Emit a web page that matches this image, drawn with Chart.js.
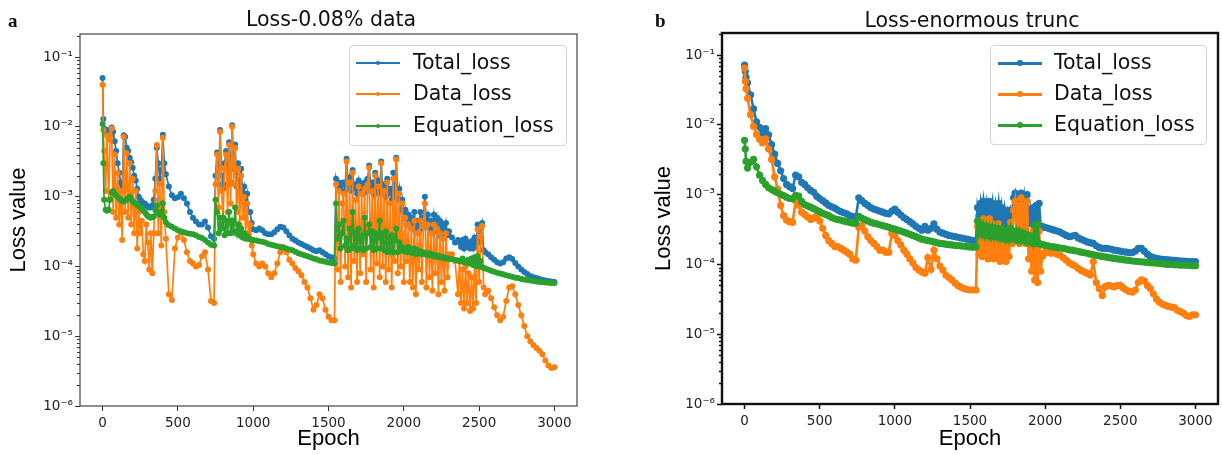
<!DOCTYPE html>
<html>
<head>
<meta charset="utf-8">
<script src="https://cdn.jsdelivr.net/npm/chart.js@4.4.1/dist/chart.umd.min.js"></script>
<style>
  body { margin: 0; background: #fff; }
  #page { position: relative; width: 1222px; height: 455px; overflow: hidden; font-family: "DejaVu Sans", sans-serif; color: #111; }
  canvas { position: absolute; top: 0; }
  .letter { position: absolute; font-family: "Liberation Serif", serif; font-weight: bold; font-size: 19px; line-height: 19px; }
  .title { position: absolute; font-size: 20.5px; line-height: 20.5px; transform: translateX(-50%); white-space: nowrap; }
  .legend { position: absolute; box-sizing: border-box; border: 1px solid #d4d4d4; border-radius: 4px; background: rgba(255,255,255,0.85); }
  .legend .sw { position: absolute; width: 44px; }
  .legend .dot { position: absolute; border-radius: 50%; }
  .legend .txt { position: absolute; font-size: 20.5px; line-height: 20.5px; white-space: nowrap; }
</style>
</head>
<body>
<div id="page">
  <canvas id="lossA" width="600" height="455" style="left:0"></canvas>
  <canvas id="lossB" width="611" height="455" style="left:611px"></canvas>
  <div class="letter" style="left:8px; top:11px">a</div>
  <div class="letter" style="left:655px; top:11px">b</div>
  <div class="title" style="left:331px; top:9px">Loss-0.08% data</div>
  <div class="title" style="left:972px; top:10px">Loss-enormous trunc</div>
  <div class="legend" id="legA" style="left:349px; top:45px; width:218px; height:101px"></div>
  <div class="legend" id="legB" style="left:990px; top:45px; width:217px; height:100px"></div>
</div>
<script>
const BLUE = '#1f77b4', ORANGE = '#ff7f0e', GREEN = '#2ca02c';

// ---- panel a: 0.08% data (sampled finer where the losses jump around) ----
const epochsA = [0, 5, 10,
  // 20-420 every 10
  20, 30, 40, 50, 60, 70, 80, 90, 100, 110, 120, 130, 140, 150, 160, 170, 180, 190, 200, 210, 220, 230, 240,
  250, 260, 270, 280, 290, 300, 310, 320, 330, 340, 350, 360, 370, 380, 390, 400, 410, 420,
  // 440-740 every 20
  440, 460, 480, 500, 520, 540, 560, 580, 600, 620, 640, 660, 680, 700, 720, 740,
  // 750-1000 every 10
  750, 760, 770, 780, 790, 800, 810, 820, 830, 840, 850, 860, 870, 880, 890, 900, 910, 920, 930, 940,
  950, 960, 970, 980, 990, 1000,
  // 1020-1540 every 20
  1020, 1040, 1060, 1080, 1100, 1120, 1140, 1160, 1180, 1200, 1220, 1240, 1260, 1280, 1300, 1320, 1340, 1360, 1380, 1400,
  1420, 1440, 1460, 1480, 1500, 1520, 1540,
  // 1550-2300 every 10
  1550, 1560, 1570, 1580, 1590, 1600, 1610, 1620, 1630, 1640, 1650, 1660, 1670, 1680, 1690, 1700, 1710, 1720, 1730, 1740,
  1750, 1760, 1770, 1780, 1790, 1800, 1810, 1820, 1830, 1840, 1850, 1860, 1870, 1880, 1890, 1900, 1910, 1920, 1930, 1940,
  1950, 1960, 1970, 1980, 1990, 2000, 2010, 2020, 2030, 2040, 2050, 2060, 2070, 2080, 2090, 2100, 2110, 2120, 2130, 2140,
  2150, 2160, 2170, 2180, 2190, 2200, 2210, 2220, 2230, 2240, 2250, 2260, 2270, 2280, 2290, 2300,
  2320, 2340, 2360,
  // 2370-2540 every 10
  2370, 2380, 2390, 2400, 2410, 2420, 2430, 2440, 2450, 2460, 2470, 2480, 2490, 2500, 2510, 2520, 2530, 2540,
  // 2560-3000 every 20
  2560, 2580, 2600, 2620, 2640, 2660, 2680, 2700, 2720, 2740, 2760, 2780, 2800, 2820, 2840, 2860, 2880, 2900, 2920, 2940,
  2960, 2980, 3000];

const totalA = [0.05, 0.013, 0.0095,
  0.0085, 0.009, 0.0068, 0.0075, 0.0098, 0.0085, 0.0062, 0.0045, 0.003, 0.0022, 0.0016, 0.0014, 0.0076, 0.0072, 0.005, 0.0045, 0.0036, 0.0031, 0.0026, 0.002, 0.0017, 0.0013, 0.001,
  0.0009, 0.00085, 0.0008, 0.0008, 0.00075, 0.00072, 0.0007, 0.0007, 0.00075, 0.0009, 0.0018, 0.005, 0.003, 0.0018, 0.0024, 0.0077, 0.003, 0.0021,
  0.0014, 0.00105, 0.00095, 0.00098, 0.0011, 0.00095, 0.0008, 0.0006, 0.0005, 0.00044, 0.0004, 0.0004, 0.00044, 0.00036, 0.00027, 0.00025,
  2e-3, 4.3e-3, 1.5e-3, 9e-3, 2e-3, 1.3e-3, 3e-3, 4.5e-3, 1.5e-3, 6e-3, 1.6e-3, 1.05e-2, 2.5e-3, 5.6e-3, 1.4e-3, 3e-3, 1.1e-3, 2.5e-3, 1.1e-3, 1.4e-3,
  8e-4, 1.1e-3, 6e-4, 6e-4, 4.2e-4, 3.4e-4,
  3.3e-4, 3.5e-4, 3.3e-4, 3.0e-4, 2.9e-4, 2.9e-4, 3.1e-4, 3.4e-4, 3.7e-4, 3.6e-4, 3.2e-4, 2.8e-4, 2.5e-4, 2.35e-4, 2.2e-4, 2.1e-4, 2.0e-4, 1.9e-4, 1.8e-4, 1.7e-4,
  1.65e-4, 1.7e-4, 1.6e-4, 1.5e-4, 1.4e-4, 1.35e-4, 1.3e-4,
  1.8e-3, 1.4e-3, 1.6e-3, 1.3e-3, 1.5e-3, 1.6e-3, 1.2e-3, 3.5e-3, 1.3e-3, 1.9e-3, 1.2e-3, 2.4e-3, 1.3e-3, 1.5e-3, 1.1e-3, 1.7e-3, 1.2e-3, 1.5e-3, 1.1e-3, 1.6e-3,
  1.2e-3, 1.8e-3, 2.8e-3, 1.3e-3, 1.6e-3, 1.1e-3, 2.2e-3, 1.2e-3, 1.7e-3, 1.1e-3, 3.2e-3, 1.2e-3, 1.5e-3, 1e-3, 1.8e-3, 1.1e-3, 1.3e-3, 9e-4, 2.2e-3, 1e-3,
  3.6e-3, 9e-4, 1.3e-3, 6.5e-4, 9e-4, 5e-4, 6.5e-4, 4e-4, 5.5e-4, 4e-4, 5e-4, 3.5e-4, 6e-4, 3.2e-4, 4.5e-4, 3.8e-4, 6e-4, 3.5e-4, 5e-4, 1e-3,
  4e-4, 5.5e-4, 3.5e-4, 4.5e-4, 3.2e-4, 5.5e-4, 3.5e-4, 5e-4, 3e-4, 4.5e-4, 3e-4, 4e-4, 2.8e-4, 4.2e-4, 2.8e-4, 3.2e-4,
  2.6e-4, 2.2e-4, 2.4e-4,
  2.2e-4, 1.9e-4, 2.4e-4, 1.8e-4, 2.5e-4, 1.9e-4, 2.2e-4, 1.8e-4, 2.3e-4, 1.8e-4, 2.6e-4, 2e-4, 4e-4, 2.2e-4, 3.4e-4, 4.2e-4, 1.7e-4, 1.6e-4,
  1.5e-4, 1.35e-4, 1.25e-4, 1.15e-4, 1.1e-4, 1.15e-4, 1.3e-4, 1.35e-4, 1.28e-4, 1.12e-4, 1e-4, 9e-5, 8.3e-5, 7.8e-5, 7.3e-5, 7e-5, 6.8e-5, 6.6e-5, 6.4e-5, 6.3e-5,
  6.2e-5, 6.1e-5, 6e-5];

const dataA = [0.04, 0.009, 0.0045,
  0.0012, 0.0075, 0.0009, 0.0065, 0.0095, 0.0006, 0.004, 0.0005, 0.0022, 0.0004, 0.0012, 0.00024, 0.0072, 0.0006, 0.0042, 0.0005, 0.003, 0.0004, 0.0018, 0.0003, 0.0012, 0.00018, 0.0006,
  0.0003, 0.00045, 0.00015, 0.00012, 0.0004, 0.00022, 0.00009, 0.0003, 0.00008, 0.0003, 0.0012, 0.0055, 0.0003, 0.0015, 0.0002, 0.007, 0.0006, 0.00025,
  0.00004, 0.000033, 0.00018, 0.00026, 0.00031, 0.00024, 0.00016, 0.00012, 0.00011, 0.0001, 0.000105, 0.00014, 0.00016, 0.00009, 0.000032, 0.00003,
  1.5e-3, 4e-3, 7e-4, 8.5e-3, 1.2e-3, 5e-4, 2.5e-3, 4e-3, 6e-4, 5.5e-3, 8e-4, 1e-2, 1.5e-3, 5e-3, 6e-4, 2.5e-3, 4e-4, 2e-3, 5e-4, 1e-3,
  3e-4, 8e-4, 2.5e-4, 4e-4, 2e-4, 1.5e-4,
  1.1e-4, 1e-4, 1.1e-4, 1e-4, 8e-5, 7e-5, 8e-5, 1.1e-4, 1.6e-4, 1.9e-4, 1.6e-4, 1.25e-4, 1.1e-4, 9.5e-5, 8.5e-5, 7.5e-5, 6e-5, 5e-5, 3.5e-5, 2.4e-5,
  2.8e-5, 4e-5, 3.5e-5, 2.4e-5, 1.9e-5, 1.7e-5, 1.7e-5,
  1.5e-3, 9e-5, 1.2e-3, 6e-5, 8e-4, 1.1e-3, 1e-4, 3.2e-3, 7e-5, 1.6e-3, 5e-5, 2.2e-3, 1.2e-4, 9e-4, 6e-5, 1.4e-3, 8e-5, 1.1e-3, 1.5e-4, 1.3e-3,
  6e-5, 1.5e-3, 2.6e-3, 9e-5, 1.2e-3, 5e-5, 2e-3, 1.1e-4, 1.4e-3, 7e-5, 3e-3, 1e-4, 1.2e-3, 6e-5, 1.6e-3, 9e-5, 8e-4, 5e-5, 1.8e-3, 1.2e-4,
  3.4e-3, 8e-5, 1.1e-3, 1e-4, 8e-4, 6e-5, 5e-4, 1.2e-4, 4e-4, 6e-5, 3.5e-4, 5e-5, 4.5e-4, 4e-5, 3e-4, 9e-5, 4.5e-4, 6e-5, 3.8e-4, 8e-4,
  5e-5, 4e-4, 7e-5, 3e-4, 4.5e-5, 4e-4, 8e-5, 3.5e-4, 4e-5, 3e-4, 6e-5, 2.5e-4, 4.5e-5, 3e-4, 7e-5, 1.5e-4,
  1.5e-4, 1.2e-4, 4e-5,
  1.2e-4, 3e-5, 9e-5, 2.5e-5, 1e-4, 3e-5, 8e-5, 2.3e-5, 7e-5, 2.5e-5, 1.1e-4, 3e-5, 3.4e-4, 6e-5, 2.7e-4, 3.8e-4, 5e-5, 4e-5,
  4.5e-5, 3.5e-5, 2.6e-5, 2e-5, 1.7e-5, 1.9e-5, 3.2e-5, 5e-5, 5.2e-5, 4e-5, 2.8e-5, 2e-5, 1.4e-5, 1e-5, 8.5e-6, 7.5e-6, 6.8e-6, 6.2e-6, 5.5e-6, 4.5e-6,
  3.8e-6, 3.5e-6, 3.6e-6];

const eqA = [0.011, 0.003, 0.0009,
  6.5e-4, 6.3e-4, 6.5e-4, 9e-4, 1.15e-3, 1.2e-3, 1.1e-3, 1.05e-3, 1e-3, 9.5e-4, 9e-4, 8.7e-4, 8.5e-4, 8.8e-4, 9e-4, 9.5e-4, 1e-3, 9.2e-4, 8.5e-4, 8.2e-4, 8e-4, 7.6e-4, 7.3e-4,
  7e-4, 6.8e-4, 6.4e-4, 6e-4, 5.6e-4, 5.3e-4, 5.1e-4, 5e-4, 5.1e-4, 5.2e-4, 6.5e-4, 7.5e-4, 5.8e-4, 5.5e-4, 6e-4, 8e-4, 5e-4, 4.3e-4,
  3.9e-4, 3.7e-4, 3.5e-4, 3.3e-4, 3.2e-4, 3.1e-4, 3e-4, 2.95e-4, 2.9e-4, 2.8e-4, 2.65e-4, 2.55e-4, 2.4e-4, 2.2e-4, 2.05e-4, 2e-4,
  9e-4, 6e-4, 3e-4, 5e-4, 3.5e-4, 5e-4, 2.8e-4, 4.5e-4, 3e-4, 6e-4, 3e-4, 4.5e-4, 3.2e-4, 7e-4, 3e-4, 4e-4, 2.8e-4, 3.5e-4, 2.6e-4, 3e-4,
  2.5e-4, 2.7e-4, 2.5e-4, 2.45e-4, 2.4e-4, 2.4e-4,
  2.35e-4, 2.3e-4, 2.25e-4, 2.2e-4, 2.1e-4, 2.05e-4, 2e-4, 1.95e-4, 1.9e-4, 1.85e-4, 1.8e-4, 1.75e-4, 1.7e-4, 1.62e-4, 1.55e-4, 1.5e-4, 1.45e-4, 1.4e-4, 1.35e-4, 1.3e-4,
  1.27e-4, 1.22e-4, 1.2e-4, 1.17e-4, 1.14e-4, 1.12e-4, 1.1e-4,
  8e-4, 2.5e-4, 4e-4, 1.8e-4, 3e-4, 4.5e-4, 2e-4, 2.5e-4, 1.7e-4, 3.5e-4, 1.8e-4, 6e-4, 2e-4, 3e-4, 1.7e-4, 3.5e-4, 1.8e-4, 2.8e-4, 1.7e-4, 5e-4,
  1.8e-4, 3e-4, 4e-4, 1.9e-4, 3.2e-4, 1.7e-4, 3e-4, 1.8e-4, 2.6e-4, 4.5e-4, 1.8e-4, 3e-4, 1.7e-4, 3.2e-4, 1.6e-4, 2.6e-4, 1.7e-4, 2.8e-4, 1.6e-4, 2.4e-4,
  3.5e-4, 1.6e-4, 2.2e-4, 1.7e-4, 1.9e-4, 1.65e-4, 1.8e-4, 1.6e-4, 1.9e-4, 1.6e-4, 1.75e-4, 1.55e-4, 1.8e-4, 1.5e-4, 1.7e-4, 1.55e-4, 1.65e-4, 1.5e-4, 1.6e-4, 1.5e-4,
  1.55e-4, 1.45e-4, 1.55e-4, 1.45e-4, 1.5e-4, 1.4e-4, 1.45e-4, 1.38e-4, 1.42e-4, 1.35e-4, 1.38e-4, 1.33e-4, 1.35e-4, 1.3e-4, 1.32e-4, 1.28e-4,
  1.27e-4, 1.25e-4, 1.22e-4,
  1.2e-4, 1.18e-4, 1.3e-4, 1.15e-4, 1.2e-4, 1.12e-4, 1.25e-4, 1.1e-4, 1.3e-4, 1.05e-4, 1.35e-4, 1.02e-4, 1.4e-4, 1e-4, 1.2e-4, 9.8e-5, 9.5e-5, 9.3e-5,
  9e-5, 8.7e-5, 8.4e-5, 8.1e-5, 7.9e-5, 7.7e-5, 7.5e-5, 7.3e-5, 7.1e-5, 6.9e-5, 6.8e-5, 6.6e-5, 6.5e-5, 6.4e-5, 6.3e-5, 6.2e-5, 6.1e-5, 6e-5, 5.95e-5, 5.9e-5,
  5.85e-5, 5.8e-5, 5.8e-5];

// ---- panel b: enormous trunc ----
const epochsB = [0, 5, 10,
  // 20-1540 every 20
  20, 40, 60, 80, 100, 120, 140, 160, 180, 200, 220, 240, 260, 280, 300, 320, 340, 360, 380, 400,
  420, 440, 460, 480, 500, 520, 540, 560, 580, 600, 620, 640, 660, 680, 700, 720, 740, 760, 780, 800,
  820, 840, 860, 880, 900, 920, 940, 960, 980, 1000, 1020, 1040, 1060, 1080, 1100, 1120, 1140, 1160, 1180, 1200,
  1220, 1240, 1260, 1280, 1300, 1320, 1340, 1360, 1380, 1400, 1420, 1440, 1460, 1480, 1500, 1520, 1540,
  // 1550-2000 every 10
  1550, 1560, 1570, 1580, 1590, 1600, 1610, 1620, 1630, 1640, 1650, 1660, 1670, 1680, 1690, 1700, 1710, 1720, 1730, 1740,
  1750, 1760, 1770, 1780, 1790, 1800, 1810, 1820, 1830, 1840, 1850, 1860, 1870, 1880, 1890, 1900, 1910, 1920, 1930, 1940,
  1950, 1960, 1970, 1980, 1990, 2000,
  // 2020-3000 every 20
  2020, 2040, 2060, 2080, 2100, 2120, 2140, 2160, 2180, 2200, 2220, 2240, 2260, 2280, 2300, 2320, 2340, 2360, 2380, 2400,
  2420, 2440, 2460, 2480, 2500, 2520, 2540, 2560, 2580, 2600, 2620, 2640, 2660, 2680, 2700, 2720, 2740, 2760, 2780, 2800,
  2820, 2840, 2860, 2880, 2900, 2920, 2940, 2960, 2980, 3000];

const totalB = [0.072, 0.058, 0.048,
  0.04, 0.027, 0.017, 0.011, 0.0092, 0.0076, 0.0088, 0.0072, 0.0052, 0.0038,
  0.0028, 0.0022, 0.0017, 0.0014, 0.0013, 0.00122, 0.0019, 0.0018, 0.0015, 0.0014,
  0.00125, 0.00115, 0.00108, 0.00095, 0.00088, 0.00082, 0.00076, 0.0007, 0.00067, 0.00064,
  0.0006, 0.00057, 0.00055, 0.00053, 0.0005, 0.00049, 0.00047, 0.0009, 0.00082, 0.00075,
  0.0007, 0.00065, 0.00062, 0.0006, 0.00058, 0.00056, 0.00054, 0.00053, 0.00058, 0.00062,
  5.6e-4, 5.1e-4, 4.7e-4, 4.4e-4, 4.1e-4, 3.8e-4, 3.5e-4, 3.3e-4, 3.1e-4, 3.5e-4,
  3.1e-4, 3.3e-4, 3.8e-4, 3.2e-4, 2.9e-4, 2.8e-4, 2.7e-4, 2.6e-4, 2.55e-4, 2.5e-4,
  2.45e-4, 2.4e-4, 2.35e-4, 2.3e-4, 2.25e-4, 2.2e-4, 2.2e-4,
  6.5e-4, 5e-4, 7.5e-4, 4.5e-4, 8e-4, 5.5e-4, 7.5e-4, 4.5e-4, 8e-4, 5e-4, 7.5e-4, 4.5e-4, 7e-4, 5e-4, 7.5e-4, 4.2e-4, 6.5e-4, 4e-4, 6e-4, 3.8e-4,
  5.5e-4, 4.2e-4, 6e-4, 5e-4, 9e-4, 1.05e-3, 6e-4, 1e-3, 5.5e-4, 1.05e-3, 6e-4, 9e-4, 5e-4, 1e-3, 4.5e-4, 6e-4, 3.8e-4, 6.5e-4, 3.5e-4, 7e-4,
  3.6e-4, 7.5e-4, 3.5e-4, 3.5e-4, 3.4e-4, 3.4e-4,
  3.3e-4, 3.2e-4, 3.1e-4, 3e-4, 2.9e-4, 2.75e-4, 2.6e-4, 2.5e-4, 2.55e-4, 2.6e-4,
  2.4e-4, 2.3e-4, 2.2e-4, 2.1e-4, 2.05e-4, 2e-4, 1.85e-4, 1.75e-4, 1.7e-4, 1.7e-4,
  1.68e-4, 1.65e-4, 1.6e-4, 1.58e-4, 1.55e-4, 1.52e-4, 1.5e-4, 1.48e-4, 1.48e-4, 1.55e-4,
  1.7e-4, 1.7e-4, 1.55e-4, 1.4e-4, 1.3e-4, 1.25e-4, 1.22e-4, 1.2e-4, 1.18e-4, 1.17e-4,
  1.16e-4, 1.15e-4, 1.14e-4, 1.13e-4, 1.12e-4, 1.12e-4, 1.11e-4, 1.1e-4, 1.1e-4, 1.1e-4];

const dataB = [0.065, 0.042, 0.033,
  0.024, 0.014, 0.0095, 0.0073, 0.0062, 0.0055, 0.0063, 0.0045, 0.0032, 0.0018,
  0.0012, 0.0007, 0.0005, 0.00043, 0.00041, 0.0004, 0.00082, 0.0007, 0.00056, 0.00052,
  0.00048, 0.00044, 0.00046, 0.0005, 0.00042, 0.00033, 0.00026, 0.00022, 0.0002, 0.00018,
  0.00018, 0.00017, 0.00016, 0.00015, 0.00014, 0.00012, 0.000115, 0.00034, 0.00036, 0.0003,
  0.00025, 0.00022, 0.0002, 0.00018, 0.00016, 0.00016, 0.00015, 0.00015, 0.00028, 0.00026,
  2.2e-4, 1.9e-4, 1.6e-4, 1.4e-4, 1.2e-4, 1.05e-4, 9e-5, 8.3e-5, 7.8e-5, 7.5e-5,
  1.25e-4, 8.5e-5, 1.6e-4, 1.2e-4, 9.5e-5, 8.3e-5, 7e-5, 6.5e-5, 6e-5, 5.4e-5,
  5e-5, 4.7e-5, 4.5e-5, 4.4e-5, 4.3e-5, 4.3e-5, 4.3e-5,
  3.5e-4, 1.4e-4, 4.2e-4, 1.3e-4, 4.5e-4, 1.5e-4, 4e-4, 1.2e-4, 4.5e-4, 1.4e-4, 3.8e-4, 1.2e-4, 3.5e-4, 1.3e-4, 3.8e-4, 1.1e-4, 3e-4, 1.2e-4, 3e-4, 1.1e-4,
  3e-4, 1.3e-4, 4e-4, 2e-4, 6e-4, 8e-4, 2.5e-4, 7e-4, 2e-4, 9e-4, 2.5e-4, 7e-4, 2e-4, 8e-4, 1.2e-4, 2.5e-4, 8e-5, 3e-4, 6e-5, 2.5e-4,
  5.5e-5, 3e-4, 8e-5, 1.3e-4, 1.4e-4, 1.5e-4,
  1.5e-4, 1.45e-4, 1.5e-4, 1.4e-4, 1.35e-4, 1.25e-4, 1.15e-4, 1.05e-4, 1e-4, 9.5e-5,
  8.8e-5, 8.2e-5, 7.8e-5, 7.5e-5, 7e-5, 1.1e-4, 5.5e-5, 4.5e-5, 3.6e-5, 4.8e-5,
  5e-5, 4.9e-5, 4.8e-5, 5e-5, 5e-5, 4.6e-5, 4.3e-5, 4.1e-5, 4e-5, 4.3e-5,
  5.5e-5, 6e-5, 5.8e-5, 5e-5, 4.5e-5, 3.8e-5, 3.2e-5, 2.9e-5, 2.7e-5, 2.6e-5,
  2.5e-5, 2.45e-5, 2.4e-5, 2.2e-5, 2.1e-5, 2e-5, 1.85e-5, 1.8e-5, 1.9e-5, 1.9e-5];

const eqB = [0.006, 0.0045, 0.003,
  0.0024, 0.0029, 0.0032, 0.0025, 0.0019, 0.0016, 0.0014, 0.00125, 0.00118, 0.00112,
  0.00106, 0.00101, 0.00097, 0.00092, 0.00088, 0.00087, 0.00098, 0.00095, 0.0008, 0.00072,
  0.00069, 0.00066, 0.00063, 0.0006, 0.00057, 0.00054, 0.00052, 0.0005, 0.00047, 0.00045,
  0.00044, 0.00043, 0.00042, 0.00041, 0.0004, 0.00039, 0.00039, 0.00049, 0.00046, 0.00044,
  0.00042, 0.0004, 0.00039, 0.00038, 0.00037, 0.00036, 0.00035, 0.00034, 0.00033, 0.00032,
  3.1e-4, 3e-4, 2.9e-4, 2.8e-4, 2.7e-4, 2.6e-4, 2.5e-4, 2.4e-4, 2.3e-4, 2.25e-4,
  2.2e-4, 2.15e-4, 2.1e-4, 2.05e-4, 2e-4, 1.98e-4, 1.95e-4, 1.92e-4, 1.9e-4, 1.88e-4,
  1.86e-4, 1.84e-4, 1.82e-4, 1.8e-4, 1.78e-4, 1.76e-4, 1.78e-4,
  4.2e-4, 2.8e-4, 3.8e-4, 2.7e-4, 3.6e-4, 2.6e-4, 3.5e-4, 2.6e-4, 3.4e-4, 2.5e-4, 3.4e-4, 2.5e-4, 3.3e-4, 2.5e-4, 3.2e-4, 2.4e-4, 3.2e-4, 2.4e-4, 3.1e-4, 2.3e-4,
  3.1e-4, 2.3e-4, 3.3e-4, 2.4e-4, 3e-4, 2.3e-4, 3e-4, 2.2e-4, 2.9e-4, 2.2e-4, 2.8e-4, 2.2e-4, 2.7e-4, 2.1e-4, 2.6e-4, 2.1e-4, 2.5e-4, 2e-4, 3.6e-4, 2e-4,
  3.8e-4, 2e-4, 1.95e-4, 1.92e-4, 1.9e-4, 1.88e-4,
  1.85e-4, 1.8e-4, 1.78e-4, 1.75e-4, 1.72e-4, 1.7e-4, 1.66e-4, 1.62e-4, 1.6e-4, 1.57e-4,
  1.54e-4, 1.5e-4, 1.47e-4, 1.44e-4, 1.41e-4, 1.38e-4, 1.35e-4, 1.33e-4, 1.3e-4, 1.28e-4,
  1.26e-4, 1.24e-4, 1.22e-4, 1.2e-4, 1.19e-4, 1.17e-4, 1.15e-4, 1.14e-4, 1.12e-4, 1.11e-4,
  1.1e-4, 1.09e-4, 1.08e-4, 1.07e-4, 1.06e-4, 1.05e-4, 1.04e-4, 1.03e-4, 1.02e-4, 1.01e-4,
  1e-4, 1e-4, 9.9e-5, 9.9e-5, 9.8e-5, 9.8e-5, 9.7e-5, 9.7e-5, 9.6e-5, 9.6e-5];

const seriesNames = ['Total_loss', 'Data_loss', 'Equation_loss'];
const seriesColors = [BLUE, ORANGE, GREEN];
const xTicks = [0, 500, 1000, 1500, 2000, 2500, 3000];
const yTicks = [1e-6, 1e-5, 1e-4, 1e-3, 1e-2, 1e-1];

const SUP = { '-': '\u207b', '0': '\u2070', '1': '\u00b9', '2': '\u00b2', '3': '\u00b3',
  '4': '\u2074', '5': '\u2075', '6': '\u2076', '7': '\u2077', '8': '\u2078', '9': '\u2079' };
const powLabel = v => '10' + String(Math.round(Math.log10(v))).split('').map(c => SUP[c]).join('');

// minor ticks on the log axis and the four spines, drawn over the lines
const framePlugin = {
  id: 'frame',
  afterDatasetsDraw(chart, args, opts) {
    const { ctx, chartArea: a } = chart;
    const y = chart.scales.y;
    ctx.save();
    ctx.strokeStyle = opts.tickColor;
    ctx.lineWidth = opts.minorWidth;
    for (let e = -6; e <= 0; e++) {
      for (let k = 2; k <= 9; k++) {
        const v = k * Math.pow(10, e);
        if (v > y.max) continue;
        const py = Math.round(y.getPixelForValue(v)) + 0.5;
        ctx.beginPath();
        ctx.moveTo(a.left - opts.minorLen, py);
        ctx.lineTo(a.left, py);
        ctx.stroke();
      }
    }
    ctx.strokeStyle = opts.color;
    ctx.lineWidth = opts.width;
    ctx.strokeRect(a.left, a.top, a.right - a.left, a.bottom - a.top);
    ctx.restore();
  }
};

function makePanel(id, epochs, vals, p) {
  const datasets = vals.map((arr, i) => ({
    label: seriesNames[i],
    data: epochs.map((e, j) => ({ x: e, y: arr[j] })),
    borderColor: seriesColors[i],
    backgroundColor: seriesColors[i],
    pointBackgroundColor: seriesColors[i],
    borderWidth: p.lw,
    pointRadius: p.r,
    pointBorderWidth: 0,
    pointHoverRadius: 0,
    tension: 0,
    order: 3 - i
  }));
  const tickFont = { family: 'DejaVu Sans', size: 13.5 };
  const axisTitleFont = { family: 'Liberation Sans', size: 22, lineHeight: 1.2 };
  return new Chart(document.getElementById(id), {
    type: 'line',
    data: { datasets },
    plugins: [framePlugin],
    options: {
      responsive: false,
      animation: false,
      devicePixelRatio: 1,
      events: [],
      layout: { padding: { left: 0, top: p.top, right: p.right, bottom: 0 } },
      plugins: {
        legend: { display: false },
        tooltip: { enabled: false },
        frame: { color: p.frame, width: p.frameW, tickColor: p.tick, minorWidth: p.tickW, minorLen: 3 }
      },
      scales: {
        x: {
          type: 'linear',
          min: -150,
          max: 3150,
          bounds: 'data',
          afterBuildTicks: s => { s.ticks = xTicks.map(v => ({ value: v })); },
          afterFit: s => { s.height = p.xH; },
          border: { display: false },
          grid: { display: true, drawOnChartArea: false, drawTicks: true, tickLength: 5, tickColor: p.tick, tickWidth: p.tickW },
          ticks: { color: '#222', font: tickFont, padding: 4, autoSkip: false, maxRotation: 0, callback: v => String(v) },
          title: { display: true, text: 'Epoch', color: '#000', font: axisTitleFont, padding: { top: 0, bottom: 3 } }
        },
        y: {
          type: 'logarithmic',
          min: 1e-6,
          max: p.yMax,
          bounds: 'data',
          afterBuildTicks: s => { s.ticks = yTicks.map(v => ({ value: v })); },
          afterFit: s => { s.width = p.yW; },
          border: { display: false },
          grid: { display: true, drawOnChartArea: false, drawTicks: true, tickLength: 5, tickColor: p.tick, tickWidth: p.tickW },
          ticks: { color: '#222', font: tickFont, padding: 2, autoSkip: false, callback: v => powLabel(v) },
          title: { display: true, text: 'Loss value', color: '#000', font: axisTitleFont, padding: { top: p.yTitlePad, bottom: 0 } }
        }
      }
    }
  });
}

makePanel('lossA', epochsA, [totalA, dataA, eqA], {
  lw: 1.7, r: 3.0, top: 34, right: 23, xH: 49, yW: 80, yMax: 0.214, yTitlePad: 6,
  frame: '#444', frameW: 1.2, tick: '#333', tickW: 1
});
makePanel('lossB', epochsB, [totalB, dataB, eqB], {
  lw: 2.6, r: 3.6, top: 33, right: 4, xH: 51, yW: 111, yMax: 0.207, yTitlePad: 40,
  frame: '#111', frameW: 2.4, tick: '#111', tickW: 1.5
});

// legends: line with a dot, then the name
function makeLegend(id, lw, r, swLeft, txtLeft, rows) {
  const box = document.getElementById(id);
  seriesNames.forEach((name, i) => {
    const cy = rows[i];
    const sw = document.createElement('div');
    sw.className = 'sw';
    sw.style.cssText = `left:${swLeft}px; top:${cy - lw / 2}px; height:${lw}px; background:${seriesColors[i]}`;
    const dot = document.createElement('div');
    dot.className = 'dot';
    dot.style.cssText = `left:${swLeft + 22 - r}px; top:${cy - r}px; width:${2 * r}px; height:${2 * r}px; background:${seriesColors[i]}`;
    const txt = document.createElement('div');
    txt.className = 'txt';
    txt.style.cssText = `left:${txtLeft}px; top:${cy - 11}px`;
    txt.textContent = name;
    box.append(sw, dot, txt);
  });
}
makeLegend('legA', 1.8, 2.4, 6, 63, [17, 48, 80]);
makeLegend('legB', 3, 2.8, 7, 63, [17, 48, 79]);
</script>
</body>
</html>
